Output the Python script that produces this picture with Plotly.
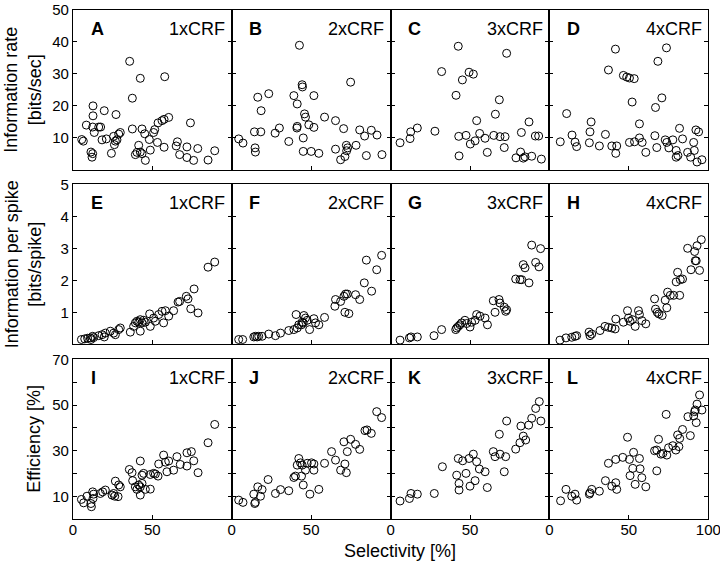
import plotly.graph_objects as go

# ---------------- data (selectivity [%], value) ----------------
# Row 1: Information rate [bits/sec]
A_sel = [5.5, 6.5, 11.3, 12.4, 12.0, 12.6, 12.6, 8.4, 12.4, 13.4, 16.2, 17.4, 19.7, 27.1, 18.3, 21.0,
         24.2, 25.6, 26.7, 28.8, 29.8, 26.1, 27.7, 35.7, 42.4, 37.4, 37.4, 43.5, 45.2, 41.4, 40.3, 42.4,
         43.5, 39.3, 45.6, 48.1, 48.7, 50.8, 51.5, 53.6, 56.1, 57.4, 60.3, 57.8, 53.2, 57.4, 65.8, 65.0,
         71.8, 67.2, 74.0, 71.8, 76.0, 78.6, 85.1, 89.3]
A_val = [9.5, 9.0, 5.6, 5.1, 4.0, 20.0, 16.9, 14.0, 13.4, 11.7, 13.4, 13.4, 18.5, 17.3, 9.4, 9.7,
         5.2, 10.5, 9.0, 11.2, 11.7, 7.9, 9.4, 33.9, 28.6, 22.4, 12.8, 12.8, 11.3, 7.7, 5.5, 5.6,
         5.1, 4.8, 3.0, 9.5, 6.2, 11.7, 12.6, 14.7, 15.4, 15.8, 16.4, 29.1, 8.6, 7.1, 8.8, 7.5,
         7.2, 4.8, 14.7, 3.9, 3.0, 6.7, 3.1, 6.0]

B_sel = [4.4, 7.1, 14.3, 18.3, 14.7, 14.9, 16.4, 23.3, 18.5, 27.3, 30.0, 35.9, 39.1, 41.2, 42.6, 44.3,
         44.5, 45.8, 46.4, 41.2, 41.0, 48.5, 51.7, 51.7, 45.0, 45.0, 50.0, 54.8, 58.4, 65.3, 70.4, 74.8,
         65.3, 72.1, 72.9, 72.3, 68.5, 71.2, 78.2, 80.5, 83.6, 87.8, 91.4, 84.7, 94.5]
B_val = [9.7, 8.4, 11.9, 11.9, 6.9, 5.6, 22.7, 23.8, 18.5, 11.5, 13.1, 8.9, 23.2, 20.6, 38.9, 26.6,
         25.9, 17.5, 16.5, 13.6, 13.1, 14.1, 13.3, 23.2, 10.0, 5.8, 5.8, 5.2, 16.5, 15.4, 12.9, 27.4,
         6.5, 7.7, 6.9, 6.0, 3.2, 4.2, 7.7, 12.5, 10.6, 12.4, 10.9, 4.5, 4.8]

C_sel = [5.9, 12.2, 12.6, 16.8, 27.9, 32.1, 42.6, 45.2, 49.4, 52.1, 41.2, 42.9, 47.5, 43.1, 50.2, 53.2,
         54.2, 56.1, 59.5, 60.9, 65.0, 66.0, 68.5, 68.9, 72.1, 71.6, 73.1, 82.4, 87.2, 79.0, 81.9, 83.6,
         84.7, 88.9, 91.2, 93.3, 95.0]
C_val = [8.5, 9.8, 11.9, 13.1, 12.1, 30.7, 38.6, 28.1, 30.5, 29.9, 23.3, 10.5, 10.8, 4.4, 8.1, 9.1,
         15.4, 11.4, 9.9, 5.5, 10.8, 17.4, 21.9, 10.4, 10.4, 7.0, 36.4, 11.7, 15.0, 3.8, 5.6, 3.7,
         4.1, 4.3, 10.6, 10.6, 3.4]

D_sel = [6.9, 10.9, 14.3, 16.2, 17.2, 25.2, 25.6, 26.3, 31.5, 35.3, 39.3, 42.4, 41.8, 41.6, 37.2, 46.6,
         48.7, 50.4, 53.4, 52.1, 56.7, 50.4, 53.6, 56.7, 58.4, 60.7, 66.4, 66.8, 70.8, 68.3, 73.7, 67.6,
         72.9, 73.9, 77.7, 75.2, 81.9, 83.8, 79.8, 79.8, 80.9, 87.0, 91.2, 90.8, 92.2, 93.9, 88.9, 92.9,
         96.0]
D_val = [8.8, 17.6, 10.9, 8.7, 7.3, 8.5, 11.9, 15.0, 7.5, 11.1, 7.5, 7.5, 5.2, 37.7, 31.2, 29.5,
         29.0, 28.7, 28.5, 21.2, 14.4, 8.6, 8.8, 10.0, 8.6, 5.5, 10.7, 19.5, 22.5, 33.9, 38.1, 7.0,
         9.4, 8.6, 9.4, 6.9, 13.0, 9.7, 6.1, 4.0, 4.5, 5.5, 6.1, 8.6, 12.5, 11.9, 4.0, 2.5,
         3.2]

# Row 2: Information per spike [bits/spike]
E_sel = [5.3, 7.4, 9.2, 10.9, 12.4, 13.0, 11.3, 16.2, 18.3, 20.4, 19.7, 23.5, 25.6, 26.7, 28.8, 29.8,
         36.1, 38.2, 39.3, 40.3, 41.4, 42.4, 43.5, 42.4, 44.5, 45.6, 48.3, 48.7, 50.8, 51.9, 54.0, 56.1,
         57.1, 58.2, 60.3, 63.4, 66.2, 67.2, 71.4, 72.5, 76.3, 74.2, 78.8, 85.1, 89.3]
E_val = [0.15, 0.17, 0.19, 0.20, 0.25, 0.21, 0.15, 0.27, 0.30, 0.35, 0.23, 0.41, 0.35, 0.30, 0.46, 0.51,
         0.38, 0.56, 0.67, 0.72, 0.69, 0.77, 0.67, 0.41, 0.75, 0.69, 0.95, 0.56, 0.82, 0.72, 0.93, 1.03,
         0.67, 1.05, 0.88, 1.05, 1.32, 1.34, 1.50, 1.42, 1.73, 1.11, 0.98, 2.41, 2.57]

F_sel = [4.4, 6.9, 13.9, 14.9, 16.0, 17.0, 19.1, 23.3, 27.5, 30.7, 35.9, 39.1, 41.2, 42.2, 40.5, 44.3,
         45.4, 46.4, 47.5, 49.0, 51.7, 52.7, 54.8, 58.4, 43.9, 45.0, 64.9, 65.3, 68.5, 70.6, 71.6, 72.7,
         71.2, 73.7, 77.9, 80.5, 83.4, 88.0, 84.7, 91.2, 94.3]
F_val = [0.15, 0.15, 0.23, 0.25, 0.23, 0.25, 0.25, 0.32, 0.27, 0.35, 0.43, 0.46, 0.51, 0.61, 0.93, 0.69,
         0.90, 0.82, 0.75, 0.46, 0.80, 0.67, 0.61, 0.84, 0.61, 0.67, 1.19, 1.40, 1.34, 1.50, 1.57, 1.57,
         1.00, 0.96, 1.55, 1.40, 1.92, 1.66, 2.63, 2.33, 2.78]

G_sel = [5.9, 11.8, 12.8, 16.8, 27.3, 32.1, 41.0, 41.6, 42.6, 43.7, 44.7, 46.8, 47.9, 50.0, 51.0, 53.2,
         54.2, 56.3, 59.5, 61.0, 64.7, 65.8, 68.3, 68.9, 71.6, 72.5, 73.1, 78.8, 81.5, 82.6, 83.6, 84.7,
         87.2, 88.9, 91.4, 93.5, 94.5]
G_val = [0.13, 0.20, 0.23, 0.23, 0.27, 0.46, 0.46, 0.51, 0.56, 0.61, 0.67, 0.75, 0.65, 0.54, 0.69, 0.75,
         0.93, 0.88, 0.82, 0.61, 1.36, 1.00, 1.40, 1.29, 1.16, 1.03, 1.08, 2.04, 2.02, 2.02, 2.49, 2.39,
         1.92, 3.10, 2.56, 2.42, 2.99]

H_sel = [6.7, 10.5, 14.1, 16.2, 17.2, 25.0, 25.6, 26.7, 31.9, 35.0, 37.2, 39.3, 41.8, 41.4, 46.6, 49.2,
         49.8, 50.8, 52.3, 54.0, 56.1, 56.7, 58.2, 60.7, 66.2, 66.8, 67.9, 68.9, 71.0, 73.9, 72.9, 74.4,
         76.1, 78.2, 82.0, 79.8, 80.7, 82.4, 83.8, 87.0, 89.1, 91.4, 92.9, 91.8, 92.4, 94.5, 95.6]
H_val = [0.13, 0.20, 0.22, 0.25, 0.27, 0.38, 0.27, 0.32, 0.43, 0.56, 0.53, 0.51, 0.79, 0.48, 0.69, 1.05,
         0.82, 0.72, 0.77, 0.56, 1.05, 0.93, 0.74, 0.64, 1.42, 1.10, 1.00, 0.95, 0.90, 1.14, 1.38, 1.63,
         1.53, 1.53, 1.53, 1.95, 2.25, 2.02, 2.04, 3.00, 2.33, 2.90, 3.08, 2.61, 2.61, 2.31, 3.27]

# Row 3: Efficiency [%]
I_sel = [5.3, 6.7, 8.8, 11.3, 11.6, 12.4, 13.0, 12.6, 17.2, 18.7, 20.4, 24.6, 25.6, 26.3, 28.4, 26.7,
         28.8, 29.8, 35.5, 37.2, 37.6, 39.3, 40.3, 41.4, 42.4, 42.4, 43.5, 43.5, 44.5, 45.6, 48.7, 42.4,
         48.7, 50.8, 51.9, 53.6, 54.0, 57.1, 58.2, 59.2, 60.3, 63.4, 65.5, 67.6, 71.8, 71.8, 74.6, 76.1,
         78.8, 85.1, 89.3]
I_val = [8.7, 7.2, 10.1, 6.9, 5.5, 12.0, 11.0, 9.1, 11.3, 12.0, 12.8, 10.6, 11.3, 10.1, 9.9, 16.7,
         15.0, 14.2, 21.8, 20.4, 16.9, 14.2, 13.1, 15.0, 14.2, 10.6, 15.7, 19.3, 20.1, 13.1, 13.2, 25.5,
         19.6, 20.1, 19.8, 18.9, 24.2, 28.1, 25.0, 20.8, 25.5, 21.5, 27.4, 24.0, 23.3, 29.1, 29.6, 25.6,
         20.4, 33.5, 41.5]

J_sel = [4.4, 7.1, 13.9, 14.5, 14.9, 16.4, 18.1, 19.1, 22.9, 27.5, 30.7, 35.9, 39.1, 40.1, 41.2, 42.2,
         43.3, 44.3, 43.9, 45.0, 46.4, 47.5, 50.2, 51.7, 51.7, 49.2, 54.8, 58.4, 62.8, 65.3, 68.5, 70.6,
         71.2, 72.1, 72.7, 74.8, 77.9, 80.5, 83.8, 85.1, 87.8, 91.2, 94.3]
J_val = [8.4, 7.4, 11.0, 6.9, 7.4, 14.2, 10.1, 13.0, 17.4, 11.3, 13.0, 12.5, 18.3, 18.9, 23.7, 26.6,
         24.7, 23.7, 18.9, 15.0, 21.5, 24.5, 24.7, 21.5, 24.2, 11.0, 13.1, 24.5, 29.6, 25.9, 21.5, 33.9,
         24.2, 20.4, 29.6, 35.0, 32.8, 30.6, 38.8, 39.1, 37.6, 47.1, 44.5]

K_sel = [5.9, 11.8, 12.8, 16.8, 27.5, 32.6, 41.6, 43.1, 43.1, 42.6, 45.4, 47.5, 49.4, 50.0, 52.1, 53.2,
         54.2, 55.9, 59.5, 60.9, 64.7, 65.8, 68.9, 68.5, 72.5, 71.6, 73.1, 78.8, 81.5, 82.1, 83.6, 85.1,
         87.0, 88.9, 91.4, 93.7, 94.7]
K_val = [8.0, 9.1, 11.3, 11.0, 11.3, 23.0, 19.3, 15.7, 12.8, 26.6, 25.6, 20.1, 26.6, 14.5, 28.5, 16.9,
         25.2, 22.0, 20.8, 13.9, 29.6, 27.4, 28.5, 37.2, 27.4, 20.8, 43.0, 30.7, 33.5, 40.8, 36.4, 34.7,
         41.2, 44.2, 48.5, 51.5, 43.0]

L_sel = [7.1, 10.5, 14.1, 16.2, 17.2, 25.2, 25.6, 26.7, 31.5, 35.3, 39.3, 41.8, 42.4, 37.2, 41.8, 46.2,
         49.2, 50.4, 53.0, 52.5, 50.8, 54.0, 56.7, 57.1, 58.2, 60.7, 67.6, 68.7, 66.2, 67.6, 70.2, 71.4,
         73.5, 73.9, 75.0, 77.7, 79.6, 80.7, 81.5, 82.0, 83.8, 88.7, 87.2, 90.8, 91.4, 92.4, 92.9, 91.8,
         96.0, 94.5]
L_val = [8.1, 13.1, 10.1, 11.0, 8.4, 11.0, 11.6, 13.1, 12.3, 16.9, 14.5, 16.0, 13.1, 24.5, 26.2, 27.1,
         35.9, 26.2, 29.3, 22.3, 19.1, 15.3, 26.6, 22.1, 18.2, 14.2, 21.2, 35.0, 30.0, 30.3, 28.5, 28.8,
         45.9, 28.1, 31.3, 32.2, 30.3, 36.9, 31.8, 35.4, 39.3, 36.6, 44.9, 45.2, 47.1, 42.3, 50.4, 47.8,
         47.8, 54.4]

panel_letters = ["A", "B", "C", "D", "E", "F", "G", "H", "I", "J", "K", "L"]
condition_labels = ["1xCRF", "2xCRF", "3xCRF", "4xCRF"]
row_titles = ["Information rate<br>[bits/sec]", "Information per spike<br>[bits/spike]", "Efficiency [%]"]
x_title = "Selectivity [%]"

panel_data = [(A_sel, A_val), (B_sel, B_val), (C_sel, C_val), (D_sel, D_val),
              (E_sel, E_val), (F_sel, F_val), (G_sel, G_val), (H_sel, H_val),
              (I_sel, I_val), (J_sel, J_val), (K_sel, K_val), (L_sel, L_val)]

y_ranges = [[0, 50], [0, 5], [0, 70]]
y_tickvals = [[10, 20, 30, 40, 50], [1, 2, 3, 4, 5], [10, 20, 30, 40, 50, 60, 70]]
y_ticktext = [["10", "20", "30", "40", "50"], ["1", "2", "3", "4", "5"],
              ["10", "", "30", "", "50", "", "70"]]
x_tickvals = [0, 50, 100]

# ---------------- layout geometry (pixels) ----------------
W, H = 720, 562
col_edges = [73.0, 231.7, 390.7, 549.3, 708.3]
row_edges = [(9.7, 170.0), (184.3, 344.3), (359.3, 519.3)]

FONT = "Liberation Sans, Arial, Helvetica, sans-serif"

fig = go.Figure()
layout = dict(
    width=W, height=H,
    margin=dict(l=0, r=0, t=0, b=0, pad=0, autoexpand=False),
    paper_bgcolor="white", plot_bgcolor="white",
    showlegend=False,
    font=dict(family=FONT, size=15, color="black"),
)
annotations = []

for r in range(3):
    for c in range(4):
        k = r * 4 + c + 1
        xs, ys = panel_data[k - 1]
        xa = "x" if k == 1 else f"x{k}"
        ya = "y" if k == 1 else f"y{k}"
        fig.add_trace(go.Scatter(
            x=xs, y=ys, mode="markers", xaxis=xa, yaxis=ya,
            marker=dict(symbol="circle-open", size=8, color="black",
                        line=dict(width=1, color="black")),
            hoverinfo="x+y",
        ))
        x0, x1 = col_edges[c] / W, col_edges[c + 1] / W
        top, bot = row_edges[r]
        y0, y1 = 1 - bot / H, 1 - top / H
        xkey = "xaxis" if k == 1 else f"xaxis{k}"
        ykey = "yaxis" if k == 1 else f"yaxis{k}"
        if r == 2:
            xt = ["0", "50", "100"] if c == 3 else ["0", "50", ""]
            show_xl = True
        else:
            xt = ["", "", ""]
            show_xl = False
        layout[xkey] = dict(
            domain=[x0, x1], range=[0, 100], anchor=ya, automargin=False,
            showline=True, linewidth=1.2, linecolor="black", mirror=True,
            ticks="inside", ticklen=4, tickwidth=1, tickcolor="black",
            tickvals=x_tickvals, ticktext=xt, showticklabels=show_xl,
            ticklabeloverflow="allow", ticklabelstandoff=-3,
            showgrid=False, zeroline=False, fixedrange=True,
            tickfont=dict(family=FONT, size=15, color="black"),
        )
        layout[ykey] = dict(
            domain=[y0, y1], range=y_ranges[r], anchor=xa, automargin=False,
            showline=True, linewidth=1.2, linecolor="black", mirror="ticks",
            ticks="inside", ticklen=4, tickwidth=1, tickcolor="black",
            tickvals=y_tickvals[r], ticktext=y_ticktext[r], showticklabels=(c == 0),
            ticklabeloverflow="allow",
            showgrid=False, zeroline=False, fixedrange=True,
            tickfont=dict(family=FONT, size=15, color="black"),
        )
        # panel letter and condition label
        annotations.append(dict(
            x=(col_edges[c] + 15.5) / W, y=1 - (top + 19) / H, xref="paper", yref="paper",
            text=f"<b>{panel_letters[k - 1]}</b>", showarrow=False,
            xanchor="left", yanchor="middle", font=dict(family=FONT, size=18, color="black"),
        ))
        annotations.append(dict(
            x=(col_edges[c + 1] - 4.5) / W, y=1 - (top + 19) / H, xref="paper", yref="paper",
            text=condition_labels[c], showarrow=False,
            xanchor="right", yanchor="middle", font=dict(family=FONT, size=18, color="black"),
        ))

# row titles
for r in range(3):
    top, bot = row_edges[r]
    cx = 23.0 if r < 2 else 34.5
    annotations.append(dict(
        x=cx / W, y=1 - ((top + bot) / 2) / H, xref="paper", yref="paper",
        text=row_titles[r], showarrow=False, textangle=-90,
        xanchor="center", yanchor="middle", font=dict(family=FONT, size=18, color="black"),
    ))

# x title
annotations.append(dict(
    x=400 / W, y=1 - 551 / H, xref="paper", yref="paper",
    text=x_title, showarrow=False, xanchor="center", yanchor="middle",
    font=dict(family=FONT, size=18, color="black"),
))

layout["annotations"] = annotations
fig.update_layout(**layout)
fig.write_html("out.html", config={"displayModeBar": False},
               post_script="document.body.style.margin='0';document.body.style.padding='0';")
